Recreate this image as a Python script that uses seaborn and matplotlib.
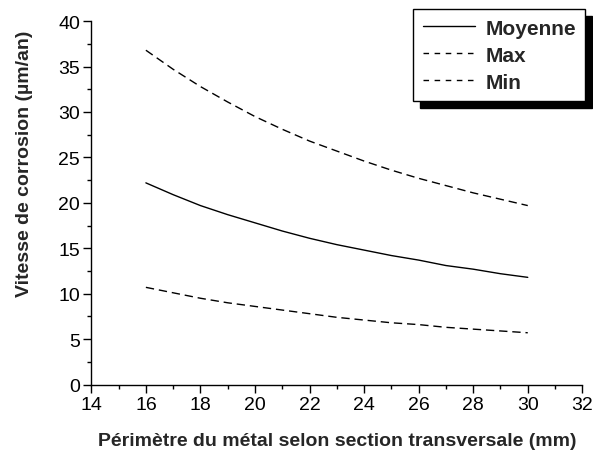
import pandas as pd
import matplotlib
matplotlib.use("Agg")
import matplotlib.pyplot as plt
import seaborn as sns

# Data
perimetre = [16, 17, 18, 19, 20, 21, 22, 23, 24, 25, 26, 27, 28, 29, 30]
moyenne = [22.2, 20.9, 19.7, 18.7, 17.8, 16.9, 16.1, 15.4, 14.8, 14.2, 13.7, 13.1, 12.7, 12.2, 11.8]
vmax = [36.8, 34.7, 32.8, 31.1, 29.5, 28.1, 26.8, 25.7, 24.6, 23.6, 22.7, 21.9, 21.1, 20.4, 19.7]
vmin = [10.7, 10.1, 9.5, 9.0, 8.6, 8.2, 7.8, 7.4, 7.1, 6.8, 6.6, 6.3, 6.1, 5.9, 5.7]

df = pd.DataFrame({"x": perimetre * 3,
                   "y": moyenne + vmax + vmin,
                   "serie": ["Moyenne"] * 15 + ["Max"] * 15 + ["Min"] * 15})

sns.set_style("ticks")
plt.rcParams["font.family"] = ["Liberation Sans", "DejaVu Sans"]

fig, ax = plt.subplots(figsize=(5.93, 4.52), dpi=100)
fig.subplots_adjust(left=0.154, right=0.982, top=0.951, bottom=0.147)

sns.lineplot(data=df, x="x", y="y", style="serie",
             dashes={"Moyenne": "", "Max": (6, 3.5), "Min": (6, 3.5)},
             color="black", linewidth=1.0, ax=ax, legend=False)

ax.set_xlim(14, 32)
ax.set_ylim(0, 40)
ax.set_xticks(range(14, 33, 2))
ax.set_xticks(range(15, 32, 2), minor=True)
ax.set_yticks(range(0, 41, 5))
ax.set_yticks([2.5 + 5 * i for i in range(8)], minor=True)
ax.tick_params(axis="both", which="major", direction="out", length=6, width=1,
               labelsize=14, colors="black", pad=2)
ax.tick_params(axis="both", which="minor", direction="out", length=3, width=1, colors="black")
for s in ["top", "right"]:
    ax.spines[s].set_visible(False)
for s in ["left", "bottom"]:
    ax.spines[s].set_linewidth(1.0)
    ax.spines[s].set_color("black")

ax.set_xlabel("Périmètre du métal selon section transversale (mm)", fontsize=14,
              fontweight="bold", labelpad=14)
ax.set_ylabel("Vitesse de corrosion (µm/an)", fontsize=14, fontweight="bold")
ax.yaxis.set_label_coords(-0.118, 0.61)

handles = [plt.Line2D([], [], color="black", lw=1.0, ls="-"),
           plt.Line2D([], [], color="black", lw=1.0, ls=(0, (4, 4))),
           plt.Line2D([], [], color="black", lw=1.0, ls=(0, (4, 4)))]
leg = fig.legend(handles, ["Moyenne", "Max", "Min"], loc="upper right",
                 bbox_to_anchor=(0.987, 0.977), borderaxespad=0, frameon=True, fancybox=False,
                 shadow={"color": "black", "alpha": 1.0, "ox": 5, "oy": -5},
                 prop={"weight": "bold", "size": 15}, handlelength=2.5,
                 handletextpad=0.5, labelspacing=0.38, borderpad=0.45, framealpha=1)
leg.get_frame().set_edgecolor("black")
leg.get_frame().set_linewidth(1.0)

fig.savefig("out.png", dpi=100)
